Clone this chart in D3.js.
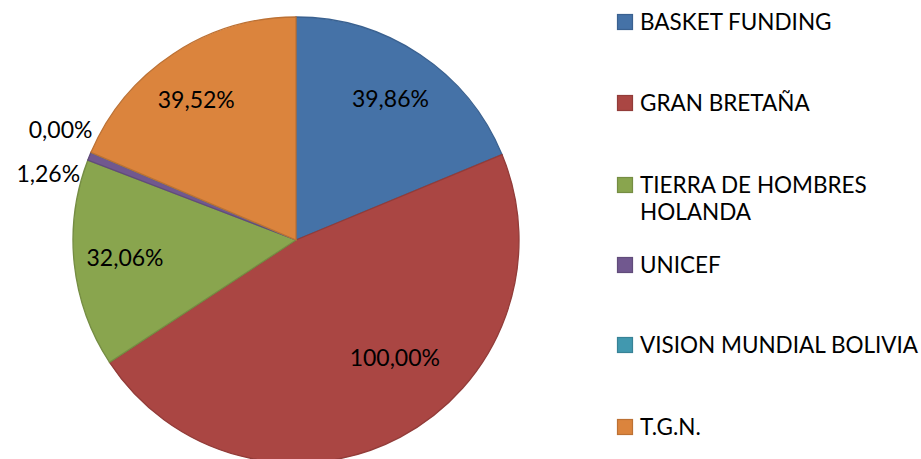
<!DOCTYPE html>
<html>
<head>
<meta charset="utf-8">
<script src="https://cdn.jsdelivr.net/npm/d3@7"></script>
<style>
  body { margin: 0; background: #fff; }
  svg text { font-family: Lato, "Open Sans", sans-serif; fill: #000; }
</style>
</head>
<body>
<svg id="chart" width="921" height="459"></svg>
<script>
// data
const categories = ["BASKET FUNDING", "GRAN BRETAÑA", "TIERRA DE HOMBRES HOLANDA", "UNICEF", "VISION MUNDIAL BOLIVIA", "T.G.N."];
const values = [39.86, 100.00, 32.06, 1.26, 0.00, 39.52];
const labels = ["39,86%", "100,00%", "32,06%", "1,26%", "0,00%", "39,52%"];
const colors = ["#4572A7", "#AA4643", "#89A54E", "#71588F", "#4198AF", "#DB843D"];
const strokes = ["#3A6190", "#923C39", "#758D43", "#614C7A", "#388296", "#BC7134"];

const width = 921, height = 459;
const cx = 296, cy = 240, radius = 223;

const svg = d3.select("#chart");

const pie = d3.pie().sort(null).value(d => d.value);
const rows = categories.map((c, i) => ({ name: c, value: values[i], label: labels[i], i }));
const arcs = pie(rows);

const arc = d3.arc().innerRadius(0).outerRadius(radius);

const g = svg.append("g").attr("transform", `translate(${cx},${cy})`);

g.selectAll("path.slice")
  .data(arcs)
  .join("path")
  .attr("class", "slice")
  .attr("d", arc)
  .attr("fill", d => colors[d.data.i])
  .attr("stroke", d => strokes[d.data.i])
  .attr("stroke-width", 1.3);

// label placement (radius, angle shift in degrees, anchor)
const labelPlace = [
  { r: 170, da: 0, anchor: "middle" },
  { r: 154, da: -12, anchor: "middle" },
  { r: 172, da: 0, anchor: "middle" },
  { r: 222, da: -4.7, anchor: "end", dx: -4 },
  { r: 228, da: 5.8, anchor: "end", dx: -4 },
  { r: 172, da: -2, anchor: "middle" }
];

g.selectAll("text.lbl")
  .data(arcs)
  .join("text")
  .attr("class", "lbl")
  .attr("font-size", 23)
  .attr("text-anchor", d => labelPlace[d.data.i].anchor)
  .attr("dy", "0.35em")
  .attr("transform", d => {
    const p = labelPlace[d.data.i];
    const a = (d.startAngle + d.endAngle) / 2 + p.da * Math.PI / 180;
    const x = Math.sin(a) * p.r + (p.dx || 0);
    const y = -Math.cos(a) * p.r;
    return `translate(${x},${y})`;
  })
  .text(d => d.data.label);

// legend
const legendRows = [22, 103, 185, 265, 345, 427];
const legend = svg.append("g").attr("transform", "translate(617,0)");
const item = legend.selectAll("g.item")
  .data(categories)
  .join("g")
  .attr("class", "item")
  .attr("transform", (d, i) => `translate(0,${legendRows[i]})`);

item.append("rect")
  .attr("x", 0.5).attr("y", -7.5)
  .attr("width", 15).attr("height", 15)
  .attr("fill", (d, i) => colors[i])
  .attr("stroke", (d, i) => strokes[i])
  .attr("stroke-width", 1.2);

item.append("text")
  .attr("x", 23)
  .attr("dy", "0.35em")
  .attr("font-size", 22.5)
  .each(function(d) {
    const t = d3.select(this);
    if (d === "TIERRA DE HOMBRES HOLANDA") {
      t.append("tspan").attr("x", 23).text("TIERRA DE HOMBRES");
      t.append("tspan").attr("x", 23).attr("dy", 27).text("HOLANDA");
    } else {
      t.text(d);
    }
  });
</script>
</body>
</html>
